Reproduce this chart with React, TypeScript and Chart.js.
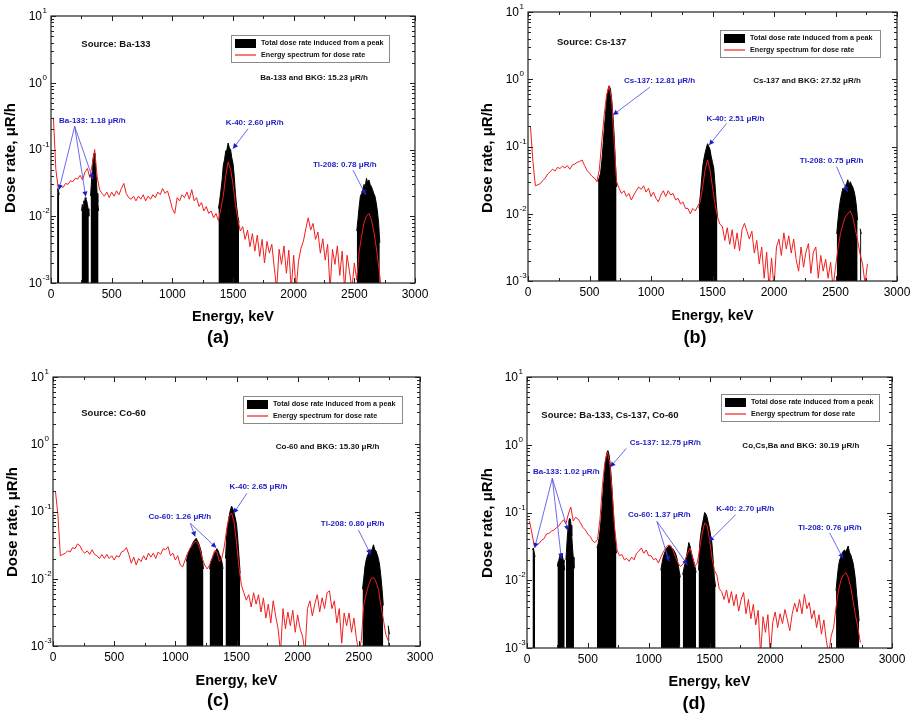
import React, { useEffect, useRef } from 'react';
import { Chart, registerables } from 'chart.js';
Chart.register(...registerables);

const FONT = '"Liberation Sans", Arial, Helvetica, sans-serif';

// ---------- shared channel grid (keV) ----------
const ENERGY = [
  20, 40, 60, 80, 100, 120, 140, 160, 180, 200,
  220, 240, 260, 280, 300, 320, 340, 360, 380, 400,
  420, 440, 460, 480, 500, 520, 540, 560, 580, 600,
  620, 640, 660, 680, 700, 720, 740, 760, 780, 800,
  820, 840, 860, 880, 900, 920, 940, 960, 980, 1000,
  1020, 1040, 1060, 1080, 1100, 1120, 1140, 1160, 1180, 1200,
  1220, 1240, 1260, 1280, 1300, 1320, 1340, 1360, 1380, 1400,
  1420, 1440, 1460, 1480, 1500, 1520, 1540, 1560, 1580, 1600,
  1620, 1640, 1660, 1680, 1700, 1720, 1740, 1760, 1780, 1800,
  1820, 1840, 1860, 1880, 1900, 1920, 1940, 1960, 1980, 2000,
  2020, 2040, 2060, 2080, 2100, 2120, 2140, 2160, 2180, 2200,
  2220, 2240, 2260, 2280, 2300, 2320, 2340, 2360, 2380, 2400,
  2420, 2440, 2460, 2480, 2500, 2520, 2540, 2560, 2580, 2600,
  2620, 2640, 2660, 2680, 2700, 2720, 2740, 2760,
];

const X_TITLE = 'Energy, keV';
const Y_TITLE = 'Dose rate, \u03bcR/h';
const Y_EXPONENTS = [-3, -2, -1, 0, 1];
const LEGEND_LABELS = ['Total dose rate induced from a peak', 'Energy spectrum for dose rate'];

// ---------- (a) Ba-133 ----------
const A_RED = [
  0.30, 0.05, 0.026, 0.028, 0.027, 0.031, 0.030, 0.034, 0.033, 0.037,
  0.036, 0.041, 0.035, 0.046, 0.052, 0.038, 0.060, 0.100, 0.040, 0.025,
  0.022, 0.020, 0.023, 0.019, 0.023, 0.020, 0.024, 0.021, 0.026, 0.031,
  0.022, 0.019, 0.018, 0.020, 0.017, 0.020, 0.018, 0.021, 0.017, 0.020,
  0.018, 0.021, 0.019, 0.023, 0.021, 0.026, 0.022, 0.024, 0.018, 0.013,
  0.011, 0.019, 0.017, 0.021, 0.019, 0.023, 0.018, 0.025, 0.017, 0.019,
  0.014, 0.016, 0.012, 0.014, 0.011, 0.012, 0.0095, 0.011, 0.0085, 0.013,
  0.020, 0.040, 0.065, 0.050, 0.030, 0.015, 0.009, 0.006, 0.007, 0.0045,
  0.0062, 0.0035, 0.0055, 0.003, 0.0052, 0.0025, 0.0045, 0.002, 0.0042, 0.0028,
  0.0038, 0.0017, 0.0008, 0.0032, 0.0019, 0.0036, 0.0014, 0.0031, 0.0008, 0.0026,
  0.0008, 0.0021, 0.0033, 0.0042, 0.0065, 0.0095, 0.0062, 0.0078, 0.0045, 0.0058,
  0.0028, 0.0046, 0.0022, 0.0038, 0.0008, 0.0032, 0.0019, 0.0036, 0.0013, 0.003,
  0.0008, 0.0026, 0.0015, 0.0008, 0.002, 0.0011, 0.003, 0.005, 0.008, 0.010,
  0.011, 0.009, 0.006, 0.0035, 0.0018, 0.0009, null, null,
];
const A_PEAK_E = [
  [50, 56, 62, 68],
  [252, 258, 264, 270, 276, 282, 288, 294, 300, 306, 312],
  [326, 332, 338, 344, 350, 356, 362, 368, 374, 380, 386, 392],
  [1380, 1390, 1400, 1410, 1420, 1430, 1440, 1450, 1460, 1470, 1480, 1490, 1500, 1510, 1520, 1530, 1540, 1550],
  [2520, 2530, 2540, 2550, 2560, 2570, 2580, 2590, 2600, 2610, 2620, 2630, 2640, 2650, 2660, 2670, 2680, 2690, 2700, 2710],
];
const A_PEAK_V = [
  [0.020, 0.026, 0.024, 0.021],
  [0.012, 0.015, 0.014, 0.017, 0.016, 0.019, 0.018, 0.017, 0.015, 0.013, 0.010],
  [0.020, 0.030, 0.045, 0.065, 0.080, 0.088, 0.075, 0.055, 0.035, 0.022, 0.016, 0.012],
  [0.013, 0.017, 0.024, 0.035, 0.058, 0.070, 0.095, 0.100, 0.125, 0.105, 0.100, 0.075, 0.062, 0.040, 0.022, 0.014, 0.010, 0.008],
  [0.006, 0.009, 0.014, 0.020, 0.022, 0.025, 0.030, 0.028, 0.037, 0.032, 0.035, 0.030, 0.028, 0.025, 0.022, 0.020, 0.016, 0.012, 0.008, 0.004],
];
const A_SOURCE = 'Source: Ba-133';
const A_TOTAL = 'Ba-133 and BKG: 15.23 \u03bcR/h';
const A_NOTES = [
  { text: 'Ba-133: 1.18 \u03bcR/h', at: [66, 0.27], from: [195, 0.222], to: [[66, 0.025], [286, 0.0197], [346, 0.036]] },
  { text: 'K-40: 2.60 \u03bcR/h', at: [1440, 0.255], from: [1624, 0.205], to: [[1500, 0.103]] },
  { text: 'Tl-208: 0.78 \u03bcR/h', at: [2159, 0.059], from: [2489, 0.049], to: [[2593, 0.021]] },
];

// ---------- (b) Cs-137 ----------
const B_RED = [
  0.20, 0.06, 0.026, 0.027, 0.028, 0.031, 0.034, 0.039, 0.042, 0.046,
  0.043, 0.049, 0.047, 0.051, 0.048, 0.052, 0.046, 0.053, 0.055, 0.058,
  0.060, 0.063, 0.052, 0.044, 0.040, 0.036, 0.034, 0.030, 0.045, 0.12,
  0.30, 0.60, 0.78, 0.50, 0.12, 0.030, 0.024, 0.020, 0.022, 0.018,
  0.020, 0.016, 0.019, 0.022, 0.025, 0.023, 0.026, 0.021, 0.024, 0.018,
  0.021, 0.017, 0.015, 0.019, 0.022, 0.018, 0.022, 0.019, 0.020, 0.016,
  0.017, 0.014, 0.015, 0.012, 0.012, 0.010, 0.012, 0.011, 0.013, 0.015,
  0.025, 0.045, 0.063, 0.045, 0.025, 0.014, 0.009, 0.007, 0.0065, 0.004,
  0.0062, 0.0035, 0.0058, 0.003, 0.0052, 0.0028, 0.0058, 0.0072, 0.0055, 0.0042,
  0.0055, 0.0026, 0.004, 0.0018, 0.0032, 0.0011, 0.0027, 0.0008, 0.0022, 0.0008,
  0.0032, 0.0042, 0.0024, 0.0052, 0.003, 0.0047, 0.0026, 0.0042, 0.0021, 0.0014,
  0.0032, 0.0016, 0.0027, 0.0036, 0.0013, 0.0027, 0.0032, 0.0011, 0.0024, 0.0014,
  0.0021, 0.0011, 0.0019, 0.0008, 0.0016, 0.003, 0.005, 0.007, 0.009, 0.010,
  0.011, 0.009, 0.006, 0.004, 0.0025, 0.0018, 0.0009, 0.0018,
];
const B_PEAK_E = [
  [570, 580, 590, 600, 610, 620, 630, 640, 650, 660, 670, 680, 690, 700, 710, 720],
  [1390, 1400, 1410, 1420, 1430, 1440, 1450, 1460, 1470, 1480, 1490, 1500, 1510, 1520, 1530, 1540],
  [2510, 2520, 2530, 2540, 2550, 2560, 2570, 2580, 2590, 2600, 2610, 2620, 2630, 2640, 2650, 2660, 2670, 2680],
  [2700, 2710],
];
const B_PEAK_V = [
  [0.030, 0.035, 0.040, 0.060, 0.100, 0.180, 0.300, 0.500, 0.700, 0.800, 0.720, 0.500, 0.300, 0.150, 0.060, 0.025],
  [0.012, 0.018, 0.030, 0.050, 0.065, 0.080, 0.095, 0.110, 0.100, 0.090, 0.070, 0.058, 0.048, 0.028, 0.015, 0.009],
  [0.005, 0.008, 0.012, 0.016, 0.020, 0.024, 0.022, 0.026, 0.028, 0.032, 0.026, 0.030, 0.027, 0.025, 0.022, 0.018, 0.013, 0.008],
  [0.006, 0.005],
];
const B_SOURCE = 'Source: Cs-137';
const B_TOTAL = 'Cs-137 and BKG: 27.52 \u03bcR/h';
const B_NOTES = [
  { text: 'Cs-137: 12.81 \u03bcR/h', at: [781, 0.94], from: [990, 0.76], to: [[692, 0.295]] },
  { text: 'K-40: 2.51 \u03bcR/h', at: [1451, 0.26], from: [1614, 0.22], to: [[1473, 0.105]] },
  { text: 'Tl-208: 0.75 \u03bcR/h', at: [2210, 0.0605], from: [2509, 0.05], to: [[2596, 0.0214]] },
];

// ---------- (c) Co-60 ----------
const C_RED = [
  0.20, 0.09, 0.022, 0.023, 0.024, 0.026, 0.025, 0.029, 0.028, 0.033,
  0.031, 0.026, 0.024, 0.026, 0.023, 0.027, 0.023, 0.022, 0.020, 0.023,
  0.020, 0.023, 0.020, 0.022, 0.019, 0.022, 0.021, 0.025, 0.026, 0.029,
  0.023, 0.017, 0.021, 0.016, 0.020, 0.018, 0.022, 0.019, 0.024, 0.021,
  0.024, 0.020, 0.025, 0.023, 0.028, 0.027, 0.030, 0.022, 0.024, 0.019,
  0.022, 0.016, 0.015, 0.019, 0.024, 0.028, 0.032, 0.036, 0.035, 0.028,
  0.020, 0.016, 0.014, 0.016, 0.020, 0.026, 0.025, 0.018, 0.020, 0.030,
  0.055, 0.085, 0.095, 0.070, 0.035, 0.015, 0.008, 0.0062, 0.0048, 0.0058,
  0.0038, 0.0062, 0.0042, 0.0058, 0.0032, 0.0052, 0.0026, 0.0042, 0.0022, 0.0047,
  0.0028, 0.0018, 0.0008, 0.0036, 0.0018, 0.0032, 0.002, 0.0034, 0.0016, 0.0029,
  0.0018, 0.0014, 0.0008, 0.0036, 0.0047, 0.0028, 0.0042, 0.0058, 0.0032, 0.0052,
  0.0036, 0.0062, 0.0066, 0.0036, 0.0047, 0.0022, 0.0036, 0.0011, 0.0031, 0.002,
  0.0031, 0.0016, 0.0026, 0.0013, 0.0008, 0.0012, 0.004, 0.006, 0.008, 0.010,
  0.0105, 0.009, 0.007, 0.004, 0.0025, 0.0015, 0.0012, null,
];
const C_PEAK_E = [
  [1090, 1100, 1110, 1120, 1130, 1140, 1150, 1160, 1170, 1180, 1190, 1200, 1210, 1220, 1230],
  [1280, 1290, 1300, 1310, 1320, 1330, 1340, 1350, 1360, 1370, 1380, 1390],
  [1410, 1420, 1430, 1440, 1450, 1460, 1470, 1480, 1490, 1500, 1510, 1520, 1530],
  [2530, 2540, 2550, 2560, 2570, 2580, 2590, 2600, 2610, 2620, 2630, 2640, 2650, 2660, 2670, 2680, 2690, 2700],
  [2740, 2750],
];
const C_PEAK_V = [
  [0.018, 0.022, 0.025, 0.028, 0.030, 0.033, 0.036, 0.038, 0.040, 0.037, 0.034, 0.030, 0.026, 0.020, 0.014],
  [0.014, 0.018, 0.020, 0.022, 0.024, 0.026, 0.028, 0.026, 0.023, 0.021, 0.018, 0.014],
  [0.020, 0.045, 0.065, 0.085, 0.105, 0.120, 0.110, 0.095, 0.080, 0.065, 0.040, 0.022, 0.012],
  [0.007, 0.010, 0.015, 0.019, 0.022, 0.024, 0.026, 0.025, 0.028, 0.032, 0.027, 0.026, 0.023, 0.020, 0.016, 0.011, 0.007, 0.004],
  [0.002, 0.0015],
];
const C_SOURCE = 'Source: Co-60';
const C_TOTAL = 'Co-60 and BKG: 15.30 \u03bcR/h';
const C_NOTES = [
  { text: 'Co-60: 1.26 \u03bcR/h', at: [781, 0.084], from: [1122, 0.067], to: [[1162, 0.0425], [1334, 0.029]] },
  { text: 'K-40: 2.65 \u03bcR/h', at: [1443, 0.233], from: [1585, 0.186], to: [[1476, 0.094]] },
  { text: 'Tl-208: 0.80 \u03bcR/h', at: [2189, 0.065], from: [2497, 0.053], to: [[2597, 0.023]] },
];

// ---------- (d) Ba-133, Cs-137, Co-60 ----------
const D_RED = [
  0.075, 0.050, 0.032, 0.033, 0.035, 0.039, 0.041, 0.048, 0.049, 0.053,
  0.055, 0.059, 0.063, 0.071, 0.078, 0.068, 0.095, 0.120, 0.075, 0.085,
  0.080, 0.070, 0.060, 0.055, 0.048, 0.044, 0.038, 0.036, 0.040, 0.080,
  0.25, 0.55, 0.78, 0.55, 0.20, 0.060, 0.028, 0.023, 0.024, 0.020,
  0.021, 0.019, 0.022, 0.020, 0.025, 0.027, 0.030, 0.025, 0.028, 0.023,
  0.023, 0.020, 0.021, 0.018, 0.022, 0.026, 0.030, 0.033, 0.032, 0.028,
  0.022, 0.018, 0.016, 0.017, 0.020, 0.025, 0.030, 0.022, 0.016, 0.018,
  0.030, 0.050, 0.070, 0.065, 0.040, 0.022, 0.014, 0.012, 0.0075, 0.0068,
  0.0052, 0.0072, 0.0046, 0.0068, 0.0042, 0.0062, 0.0035, 0.0052, 0.0066, 0.0032,
  0.0052, 0.0027, 0.0044, 0.0022, 0.0036, 0.0008, 0.0029, 0.0017, 0.0031, 0.0008,
  0.0024, 0.0034, 0.002, 0.0032, 0.0023, 0.0037, 0.0026, 0.0018, 0.0032, 0.0046,
  0.0034, 0.0052, 0.0032, 0.0062, 0.0038, 0.0047, 0.0027, 0.0036, 0.002, 0.0031,
  0.0016, 0.0026, 0.0013, 0.0008, 0.0015, 0.002, 0.004, 0.007, 0.010, 0.012,
  0.013, 0.011, 0.008, 0.005, 0.003, 0.002, 0.0012, null,
];
const D_PEAK_E = [
  [45, 52, 59, 66],
  [250, 256, 262, 268, 274, 280, 286, 292, 298, 304, 310],
  [320, 326, 332, 338, 344, 350, 356, 362, 368, 374, 380, 386],
  [575, 585, 595, 605, 615, 625, 635, 645, 655, 665, 675, 685, 695, 705, 715, 725, 735],
  [1100, 1110, 1120, 1130, 1140, 1150, 1160, 1170, 1180, 1190, 1200, 1210, 1220, 1230, 1240, 1250, 1260],
  [1280, 1290, 1300, 1310, 1320, 1330, 1340, 1350, 1360, 1370, 1380, 1390],
  [1410, 1420, 1430, 1440, 1450, 1460, 1470, 1480, 1490, 1500, 1510, 1520, 1530, 1540, 1550],
  [2540, 2550, 2560, 2570, 2580, 2590, 2600, 2610, 2620, 2630, 2640, 2650, 2660, 2670, 2680, 2690, 2700, 2710, 2720, 2730],
];
const D_PEAK_V = [
  [0.028, 0.030, 0.026, 0.022],
  [0.016, 0.019, 0.020, 0.022, 0.024, 0.021, 0.025, 0.022, 0.020, 0.018, 0.014],
  [0.020, 0.030, 0.045, 0.060, 0.075, 0.082, 0.080, 0.065, 0.045, 0.030, 0.022, 0.015],
  [0.030, 0.035, 0.045, 0.065, 0.110, 0.200, 0.350, 0.550, 0.750, 0.820, 0.700, 0.480, 0.280, 0.140, 0.070, 0.040, 0.025],
  [0.014, 0.018, 0.022, 0.025, 0.028, 0.030, 0.031, 0.033, 0.032, 0.030, 0.029, 0.027, 0.025, 0.022, 0.018, 0.014, 0.011],
  [0.012, 0.015, 0.018, 0.022, 0.028, 0.036, 0.032, 0.026, 0.022, 0.019, 0.016, 0.013],
  [0.014, 0.035, 0.050, 0.065, 0.080, 0.100, 0.095, 0.085, 0.070, 0.058, 0.045, 0.035, 0.020, 0.011, 0.008],
  [0.007, 0.011, 0.016, 0.020, 0.022, 0.025, 0.027, 0.028, 0.026, 0.029, 0.032, 0.026, 0.024, 0.021, 0.018, 0.014, 0.010, 0.006, 0.004, 0.0025],
];
const D_SOURCE = 'Source: Ba-133, Cs-137, Co-60';
const D_TOTAL = 'Co,Cs,Ba and BKG: 30.19 \u03bcR/h';
const D_NOTES = [
  { text: 'Cs-137: 12.75 \u03bcR/h', at: [844, 1.07], from: [816, 0.88], to: [[685, 0.47]] },
  { text: 'Ba-133: 1.02 \u03bcR/h', at: [49, 0.4], from: [208, 0.32], to: [[63, 0.03], [282, 0.021], [337, 0.054]] },
  { text: 'Co-60: 1.37 \u03bcR/h', at: [830, 0.094], from: [1068, 0.074], to: [[1167, 0.019], [1318, 0.017]] },
  { text: 'K-40: 2.70 \u03bcR/h', at: [1556, 0.113], from: [1715, 0.093], to: [[1496, 0.0375]] },
  { text: 'Tl-208: 0.76 \u03bcR/h', at: [2227, 0.059], from: [2488, 0.05], to: [[2597, 0.021]] },
];

// ---------- layout (page pixels) ----------
const PANELS = [
  { id: '(a)', red: A_RED, pe: A_PEAK_E, pv: A_PEAK_V, src: A_SOURCE, tot: A_TOTAL, notes: A_NOTES, srcAt: [250, 3.8], totAt: [1725, 1.19],
    canvas: [0, 0, 458, 358], area: [51, 16, 415, 283], yTitle: [11, 158], xTitleY: 317, label: [218, 338], legend: [180, 19, 158, 27] },
  { id: '(b)', red: B_RED, pe: B_PEAK_E, pv: B_PEAK_V, src: B_SOURCE, tot: B_TOTAL, notes: B_NOTES, srcAt: [236, 3.57], totAt: [1831, 0.96],
    canvas: [458, 0, 457, 358], area: [528, 12, 897, 281], yTitle: [487.5, 158], xTitleY: 316, label: [695, 338], legend: [192, 18, 160, 27] },
  { id: '(c)', red: C_RED, pe: C_PEAK_E, pv: C_PEAK_V, src: C_SOURCE, tot: C_TOTAL, notes: C_NOTES, srcAt: [231, 2.85], totAt: [1821, 0.93],
    canvas: [0, 360, 458, 366], area: [53, 377, 420, 646], yTitle: [12.5, 522], xTitleY: 681, label: [218, 701], legend: [190, 19, 159, 27] },
  { id: '(d)', red: D_RED, pe: D_PEAK_E, pv: D_PEAK_V, src: D_SOURCE, tot: D_TOTAL, notes: D_NOTES, srcAt: [118, 2.7], totAt: [1770, 0.97],
    canvas: [458, 360, 457, 366], area: [527, 377, 892, 648], yTitle: [487.5, 523], xTitleY: 682, label: [694, 704], legend: [194, 17, 158, 27] },
];

const Y_AXIS_W = 45;
const X_AXIS_H = 25;
const BLUE = '#1c1cc8';
const RED = '#f01e1e';

function makeDecor(p: any) {
  return {
    id: 'decor',
    afterDraw(chart: any) {
      const ctx = chart.ctx as CanvasRenderingContext2D;
      const { left: L, right: R, top: T, bottom: B } = chart.chartArea;
      const xs = chart.scales.x;
      const ys = chart.scales.y;
      const ox = p.canvas[0];
      const oy = p.canvas[1];
      ctx.save();

      // frame
      ctx.strokeStyle = '#222';
      ctx.lineWidth = 1.2;
      ctx.strokeRect(L, T, R - L, B - T);

      // ticks (inward, all sides)
      ctx.lineWidth = 1;
      ctx.beginPath();
      for (let e = 0; e <= 3000; e += 250) {
        const x = Math.round(xs.getPixelForValue(e)) + 0.5;
        const len = e % 500 === 0 ? 5 : 3;
        ctx.moveTo(x, B); ctx.lineTo(x, B - len);
        ctx.moveTo(x, T); ctx.lineTo(x, T + len);
      }
      for (let k = 0; k < Y_EXPONENTS.length; k++) {
        const base = Math.pow(10, Y_EXPONENTS[k]);
        const maxM = k === Y_EXPONENTS.length - 1 ? 1 : 9;
        for (let m = 1; m <= maxM; m++) {
          const y = Math.round(ys.getPixelForValue(base * m)) + 0.5;
          const len = m === 1 ? 5 : 3;
          ctx.moveTo(L, y); ctx.lineTo(L + len, y);
          ctx.moveTo(R, y); ctx.lineTo(R - len, y);
        }
      }
      ctx.stroke();

      // y tick labels 10^n
      ctx.fillStyle = '#000';
      for (const ex of Y_EXPONENTS) {
        const y = ys.getPixelForValue(Math.pow(10, ex));
        ctx.font = '12px ' + FONT;
        ctx.textAlign = 'right';
        ctx.textBaseline = 'middle';
        ctx.fillText('10', L - 9, y + 0.5);
        ctx.font = '8px ' + FONT;
        ctx.textAlign = 'left';
        ctx.fillText(String(ex), L - 8.5, y - 5);
      }

      // axis titles and panel label
      ctx.font = 'bold 15px ' + FONT;
      ctx.textAlign = 'center';
      ctx.textBaseline = 'middle';
      ctx.save();
      ctx.translate(p.yTitle[0] - ox, p.yTitle[1] - oy);
      ctx.rotate(-Math.PI / 2);
      ctx.fillText(Y_TITLE, 0, 0);
      ctx.restore();
      ctx.font = 'bold 14.5px ' + FONT;
      ctx.fillText(X_TITLE, (L + R) / 2, p.xTitleY - oy);
      ctx.font = 'bold 18px ' + FONT;
      ctx.fillText(p.id, p.label[0] - ox, p.label[1] - oy);

      // legend box
      const [lx, ly, lw, lh] = p.legend;
      const bx = Math.round(L + lx);
      const by = Math.round(T + ly);
      ctx.fillStyle = '#fff';
      ctx.fillRect(bx, by, lw, lh);
      ctx.strokeStyle = '#8a8a8a';
      ctx.lineWidth = 1;
      ctx.strokeRect(bx + 0.5, by + 0.5, lw, lh);
      ctx.fillStyle = '#000';
      ctx.fillRect(bx + 4, by + 4, 21, 9);
      ctx.strokeStyle = RED;
      ctx.lineWidth = 1.2;
      ctx.beginPath();
      ctx.moveTo(bx + 4, by + 20); ctx.lineTo(bx + 25, by + 20);
      ctx.stroke();
      ctx.fillStyle = '#111';
      ctx.font = 'bold 7.2px ' + FONT;
      ctx.textAlign = 'left';
      ctx.fillText(chart.data.datasets[1].label, bx + 30, by + 8.3);
      ctx.fillText(chart.data.datasets[0].label, bx + 30, by + 20);

      // black texts
      ctx.font = 'bold 9.5px ' + FONT;
      ctx.fillText(p.src, xs.getPixelForValue(p.srcAt[0]), ys.getPixelForValue(p.srcAt[1]));
      ctx.font = 'bold 8px ' + FONT;
      ctx.fillText(p.tot, xs.getPixelForValue(p.totAt[0]), ys.getPixelForValue(p.totAt[1]));

      // blue notes with arrows
      for (const n of p.notes) {
        const fx = xs.getPixelForValue(n.from[0]);
        const fy = ys.getPixelForValue(n.from[1]);
        for (const t of n.to) {
          const tx = xs.getPixelForValue(t[0]);
          const ty = ys.getPixelForValue(t[1]);
          ctx.strokeStyle = '#5a5ae8';
          ctx.lineWidth = 0.9;
          ctx.beginPath();
          ctx.moveTo(fx, fy); ctx.lineTo(tx, ty);
          ctx.stroke();
          const a = Math.atan2(ty - fy, tx - fx);
          const hl = 5, hw = 2.6;
          ctx.fillStyle = BLUE;
          ctx.beginPath();
          ctx.moveTo(tx, ty);
          ctx.lineTo(tx - hl * Math.cos(a) + hw * Math.sin(a), ty - hl * Math.sin(a) - hw * Math.cos(a));
          ctx.lineTo(tx - hl * Math.cos(a) - hw * Math.sin(a), ty - hl * Math.sin(a) + hw * Math.cos(a));
          ctx.closePath();
          ctx.fill();
        }
        ctx.fillStyle = BLUE;
        ctx.font = 'bold 8px ' + FONT;
        ctx.textAlign = 'left';
        ctx.textBaseline = 'middle';
        ctx.fillText(n.text, xs.getPixelForValue(n.at[0]), ys.getPixelForValue(n.at[1]));
      }
      ctx.restore();
    },
  };
}

function Panel({ p }: { p: any }) {
  const ref = useRef<HTMLCanvasElement | null>(null);
  useEffect(() => {
    const [cx, cy, cw, ch] = p.canvas;
    const [al, at, ar, ab] = p.area;
    const datasets: any[] = [
      {
        label: LEGEND_LABELS[1],
        data: ENERGY.map((e, i) => ({ x: e, y: p.red[i] })),
        borderColor: RED,
        borderWidth: 1,
        pointRadius: 0,
        fill: false,
        tension: 0,
        spanGaps: false,
        order: 0,
      },
    ];
    p.pe.forEach((es: number[], k: number) => {
      datasets.push({
        label: LEGEND_LABELS[0],
        data: es.map((e, i) => ({ x: e, y: p.pv[k][i] })),
        borderColor: '#000',
        backgroundColor: '#000',
        borderWidth: 1,
        pointRadius: 0,
        fill: 'start',
        tension: 0,
        order: 1,
      });
    });
    const chart = new Chart(ref.current as HTMLCanvasElement, {
      type: 'line',
      data: { datasets },
      options: {
        animation: false,
        responsive: false,
        devicePixelRatio: 1,
        events: [],
        layout: {
          padding: {
            left: al - cx - Y_AXIS_W,
            top: at - cy,
            right: cx + cw - ar,
            bottom: cy + ch - ab - X_AXIS_H,
          },
        },
        plugins: { legend: { display: false }, tooltip: { enabled: false }, title: { display: false } },
        scales: {
          x: {
            type: 'linear',
            min: 0,
            max: 3000,
            grid: { display: false, drawTicks: false },
            border: { display: false },
            ticks: {
              stepSize: 500, color: '#000', padding: 4, maxRotation: 0, autoSkip: false,
              font: { family: FONT, size: 12 },
              callback: (v: any) => String(v),
            },
            afterFit: (s: any) => { s.height = X_AXIS_H; },
          },
          y: {
            type: 'logarithmic',
            min: 0.001,
            max: 10,
            grid: { display: false, drawTicks: false },
            border: { display: false },
            ticks: { display: false },
            afterFit: (s: any) => { s.width = Y_AXIS_W; },
          },
        },
      },
      plugins: [makeDecor(p)],
    } as any);
    return () => chart.destroy();
  }, [p]);
  const [cx, cy, cw, ch] = p.canvas;
  return (
    <canvas
      ref={ref}
      width={cw}
      height={ch}
      style={{ position: 'absolute', left: cx, top: cy, width: cw, height: ch }}
    />
  );
}

export default function App() {
  return (
    <div style={{ position: 'absolute', left: 0, top: 0, width: 915, height: 726, background: '#fff', overflow: 'hidden' }}>
      {PANELS.map((p) => (
        <Panel key={p.id} p={p} />
      ))}
    </div>
  );
}
